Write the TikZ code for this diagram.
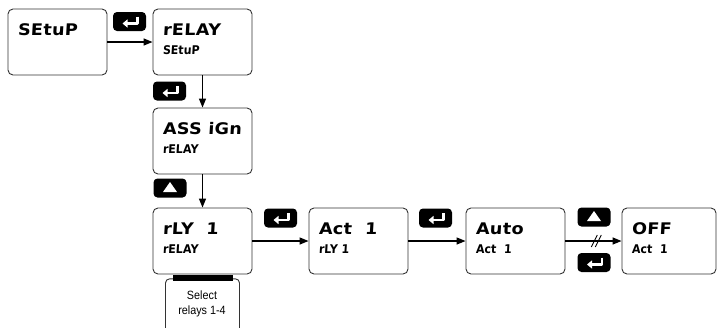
\documentclass[tikz,border=0pt]{standalone}
\usepackage{fontspec}
\usepackage{tikz}
\usetikzlibrary{
    positioning,
    arrows.meta,
}
\newfontfamily\bigdisp[FakeStretch=1.1,FakeSlant=0.06,LetterSpace=2]{DejaVu Sans}
\newfontfamily\smalldisp[FakeStretch=0.92,FakeSlant=0.06]{DejaVu Sans}
\newfontfamily\notefont[FakeStretch=0.9]{Liberation Sans}
\tikzset{
    % Display boxes
    display/.style={rectangle, draw=black!80, line width=0.9pt, rounded corners=5pt,
                    minimum width=99pt, minimum height=66pt, inner sep=0pt},
    big text/.style={anchor=base west, inner sep=0pt,
                     font=\bigdisp\bfseries\fontsize{16}{16}\selectfont},
    small text/.style={anchor=base west, inner sep=0pt,
                       font=\smalldisp\bfseries\fontsize{12}{12}\selectfont},
    % Push buttons
    key/.style={rectangle, fill=black, rounded corners=4pt,
                minimum width=33pt, minimum height=19pt, inner sep=0pt},
    % Arrow styles
    arrow/.style={-{Triangle[length=9pt,width=7pt]}, line width=1.3pt},
    note box/.style={rectangle, draw=black!80, line width=0.9pt, rounded corners=4pt,
                     minimum width=74pt, minimum height=64pt, inner sep=0pt},
}

\begin{document}
\begin{tikzpicture}[x=1pt, y=-1pt]
    \useasboundingbox (0,0) rectangle (717,327);

    % Displays
    \foreach \n/\cx/\cy/\top/\bot in {setup/57.5/42/SEtuP/,
            relay/202.5/42/rELAY/SEtuP, assign/202.5/141/ASS iGn/rELAY,
            rly/202.5/241/rLY\ \ 1/rELAY, act/358.5/241/Act\ \ 1/rLY 1,
            auto/515.5/241/Auto/Act\ \ 1} {
        \node[display] (\n) at (\cx, \cy) {};
        \node[big text] (\n-top) at ([shift={(10,27)}]\n.north west) {\top};
        \node[small text] (\n-bot) at ([shift={(10,46)}]\n.north west) {\bot};
    }
    \node[display, minimum width=94pt] (off) at (669, 241) {};
    \node[big text] (off-top) at ([shift={(10,27)}]off.north west) {OFF};
    \node[small text] (off-bot) at ([shift={(10,46)}]off.north west) {Act\ \ 1};

    % Relay selection note
    \node[note box, below=-1pt of rly, yshift=-5pt] (sel) {};
    \node[fill=black, minimum width=60pt, minimum height=6pt, inner sep=0pt,
          below=0pt of rly] (bar) {};
    \node[font=\notefont\fontsize{12}{14.5}\selectfont, align=center]
        (seltext) at (202, 304) {Select\\relays 1-4};

    % Keys
    \node[key] (enter1) at (129.5, 21.5) {};
    \node[key] (enter2) at (169.5, 91) {};
    \node[key] (up1) at (170, 188) {};
    \node[key] (enter3) at (280.5, 218) {};
    \node[key] (enter4) at (435.5, 218) {};
    \node[key] (up2) at (594, 217) {};
    \node[key] (enter5) at (594, 262.5) {};
    \foreach \k in {enter1, enter2, enter3, enter4, enter5} {
        \draw[white, line width=2.4pt, line join=round,
              -{Triangle[length=5pt,width=8pt]}]
            ([shift={(8,-5)}]\k.center) -- ++(0,7) -- ++(-15,0);
    }
    \foreach \k in {up1, up2} {
        \fill[white] ([shift={(-7,4)}]\k.center) -- ++(14,0) -- ++(-7,-10) -- cycle;
    }

    % Arrows
    \draw[arrow] (setup) -- (relay);
    \draw[arrow] (relay) -- (assign);
    \draw[arrow] (assign) -- (rly);
    \draw[arrow] (rly) -- (act);
    \draw[arrow] (act) -- (auto);
    \draw[arrow] (auto) -- (off) coordinate[pos=0.55] (brk);
    \draw[line width=0.9pt] ([shift={(-5,6)}]brk) -- ++(6,-12);
    \draw[line width=0.9pt] ([shift={(-1,6)}]brk) -- ++(6,-12);
\end{tikzpicture}
\end{document}
